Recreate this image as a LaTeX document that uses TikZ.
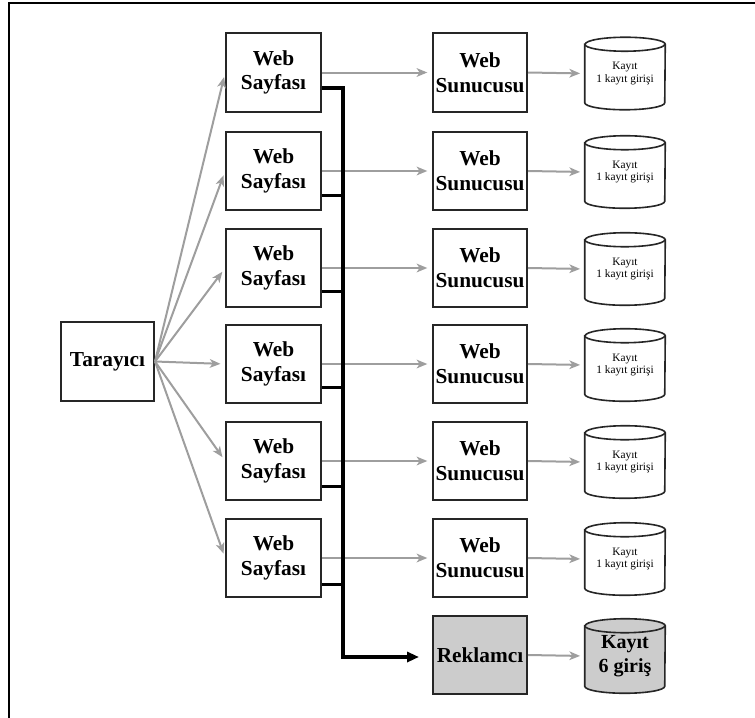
\documentclass[tikz,border=0pt]{standalone}
\usepackage{fontspec}
\setmainfont{Liberation Serif}
\usetikzlibrary{arrows.meta,calc,backgrounds}
\newcommand\dbcyl[2]{%
  \draw[cylline,fill=#2] ($(#1.north west)+(0,7)$) -- ($(#1.south west)+(0,-7)$)
    arc[start angle=180,end angle=360,x radius=30pt,y radius=5.25pt]
    -- ($(#1.north east)+(0,7)$)
    arc[start angle=0,end angle=180,x radius=30pt,y radius=5.25pt] -- cycle;
  \draw[cylline] ($(#1.north west)+(0,7)$)
    arc[start angle=180,end angle=360,x radius=30pt,y radius=5.25pt];}
\begin{document}
\begin{tikzpicture}[x=0.75pt,y=-0.75pt,
  box/.style={draw=black!85, line width=1.5pt, rectangle, minimum width=71pt,
    minimum height=59pt, inner sep=0pt, align=center,
    font=\fontsize{16}{18.5}\selectfont\bfseries},
  cylbox/.style={rectangle, minimum width=60pt, minimum height=54pt, inner sep=0pt,
    align=center, font=\fontsize{8.5}{9.5}\selectfont},
  cylline/.style={draw=black!85, line width=1.2pt},
  garrow/.style={draw=black!38, line width=1.5pt,
    -{Stealth[length=8pt,width=6.5pt,inset=2.2pt]}, shorten >=3.5pt},
  bus/.style={draw=black, line width=2.6pt, line join=miter}
]
\useasboundingbox (0,0) rectangle (755,717);
\draw[line width=2pt] (9,720) -- (9,3) -- (758,3);

\node[box, minimum width=69.75pt] (tar) at (107.5,361.5) {Tarayıcı};

\foreach \i/\y in {1/72.5,2/171,3/268,4/364,5/461,6/558} {
  \node[box] (s\i) at (273.5,\y) {Web\\Sayfası};
  \node[box, minimum width=70.5pt] (u\i) at (480,\y) {Web\\Sunucusu};
  \node[cylbox] (k\i) at (625,\y+1) {Kayıt\\1 kayıt girişi};
}
\node[box, minimum width=70.5pt, fill=black!20] (rek) at (480,655) {Reklamcı};
\node[cylbox, minimum height=55.5pt, font=\fontsize{15}{17.5}\selectfont\bfseries] (kr) at (625,656) {Kayıt\\6 giriş};

\begin{pgfonlayer}{background}
  \foreach \i in {1,...,6} {\dbcyl{k\i}{white}}
  \dbcyl{kr}{black!20}
\end{pgfonlayer}

\foreach \i in {1,...,6} {
  \draw[garrow] (tar.east) -- (s\i.west);
  \draw[garrow] (s\i.east) -- (u\i.west);
  \draw[garrow] (u\i.east) -- (k\i.west);
}
\draw[garrow] (rek.east) -- (kr.west);

\coordinate (busx) at (343,657);
\draw[bus, -{Triangle[length=9pt,width=7.5pt]}, shorten >=9.75pt]
  ($(s1.south east)+(0,-25)$) -| (busx) -- (busx -| rek.west);
\foreach \i/\d in {2/16,3/17,4/17,5/15,6/14} {
  \path ($(s\i.south east)+(0,-\d)$) coordinate (b\i);
  \draw[bus] (b\i) -- (b\i -| busx);
}
\end{tikzpicture}
\end{document}
